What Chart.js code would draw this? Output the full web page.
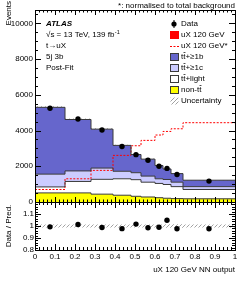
<!DOCTYPE html>
<html>
<head>
<meta charset="utf-8">
<script src="https://cdn.jsdelivr.net/npm/chart.js@4.4.1/dist/chart.umd.min.js"></script>
<style>
    html, body { margin: 0; padding: 0; background: #fff; }
    #wrap { position: relative; width: 249px; height: 281px; overflow: hidden; }
    canvas { position: absolute; left: 0; }
    #main { top: 0; }
    #ratio { top: 190px; }
</style>
</head>
<body>
<div id="wrap">
    <canvas id="main" width="249" height="212"></canvas>
    <canvas id="ratio" width="249" height="91"></canvas>
</div>
<script>
// NN output binning
const binEdges = [0, 0.15, 0.28, 0.39, 0.48, 0.53, 0.60, 0.64, 0.68, 0.74, 1.0];

// post-fit background components (events per bin)
const nonTtbar = [510, 510, 440, 380, 320, 280, 240, 210, 190, 180];
const ttLight = [335, 640, 830, 920, 930, 830, 800, 770, 670, 520];
const ttGe1c = [715, 590, 630, 420, 390, 340, 260, 280, 250, 160];
const ttGe1b = [3740, 2880, 2180, 1450, 1020, 950, 740, 590, 480, 360];

// signal normalised to total background (dashed)
const signalNorm = [700, 1300, 1770, 2610, 3150, 3450, 3750, 3950, 4100, 4440];

const dataEvents = [5250, 4650, 4030, 3110, 2650, 2335, 2000, 1880, 1540, 1170];
const dataRatio = [0.993, 1.013, 0.988, 0.978, 1.016, 0.985, 0.99, 1.048, 0.977, 0.977];
const uncFrac = [0.012, 0.012, 0.012, 0.012, 0.013, 0.013, 0.013, 0.014, 0.014, 0.012];

const yTicksMain = [0, 2000, 4000, 6000, 8000, 10000];
const yTicksRatio = [0.8, 0.9, 1, 1.1];
const xTicks = [0, 0.1, 0.2, 0.3, 0.4, 0.5, 0.6, 0.7, 0.8, 0.9, 1];

const FONT = '"Liberation Sans", Arial, Helvetica, sans-serif';
const COL = {
    b: '#6666cc',
    c: '#ccccff',
    light: '#ffffff',
    nontt: '#ffff00',
    sig: '#ff0000',
    line: '#3a3a3a',
};

const binCenters = binEdges.slice(0, -1).map((e, i) => (e + binEdges[i + 1]) / 2);

function steps(vals) {
    return binEdges.map((e, i) => ({ x: e, y: vals[Math.min(i, vals.length - 1)] }));
}

function cumulate(...parts) {
    return parts[0].map((_, i) => parts.reduce((s, p) => s + p[i], 0));
}

function hatch() {
    const c = document.createElement('canvas');
    c.width = 4;
    c.height = 4;
    const g = c.getContext('2d');
    g.strokeStyle = '#8a8a8a';
    g.lineWidth = 0.8;
    g.beginPath();
    g.moveTo(0, 4);
    g.lineTo(4, 0);
    g.moveTo(-1, 1);
    g.lineTo(1, -1);
    g.moveTo(3, 5);
    g.lineTo(5, 3);
    g.stroke();
    return g.createPattern(c, 'repeat');
}

const cumNon = nonTtbar;
const cumLight = cumulate(nonTtbar, ttLight);
const cumC = cumulate(nonTtbar, ttLight, ttGe1c);
const total = cumulate(nonTtbar, ttLight, ttGe1c, ttGe1b);
const uncLo = total.map((v, i) => v * (1 - uncFrac[i]));
const uncHi = total.map((v, i) => v * (1 + uncFrac[i]));
const pattern = hatch();

function histLine(vals, fill, bg, extra = {}) {
    return {
        data: steps(vals),
        stepped: true,
        fill: fill,
        backgroundColor: bg,
        borderColor: COL.line,
        borderWidth: 1,
        pointRadius: 0,
        ...extra,
    };
}

// inward ATLAS-style ticks + frame
function drawFrame(chart, cfg) {
    const { ctx, chartArea: a, scales } = chart;
    const x = scales.x;
    const y = scales.y;
    ctx.save();
    ctx.strokeStyle = '#000';
    ctx.lineWidth = 1;
    ctx.beginPath();
    const tick = (px, len, vertical) => {
        const p = Math.round(px) + 0.5;
        if (vertical) {
            ctx.moveTo(p, a.bottom);
            ctx.lineTo(p, a.bottom - len);
            ctx.moveTo(p, a.top);
            ctx.lineTo(p, a.top + len);
        } else {
            ctx.moveTo(a.left, p);
            ctx.lineTo(a.left + len, p);
            ctx.moveTo(a.right, p);
            ctx.lineTo(a.right - len, p);
        }
    };
    for (let v = 0; v <= 1.0001; v += 0.02) {
        const major = Math.abs(v * 10 - Math.round(v * 10)) < 1e-6;
        tick(x.getPixelForValue(v), major ? cfg.xMajor : cfg.xMinor, true);
    }
    for (let v = cfg.yMin; v <= cfg.yMax + 1e-9; v += cfg.yStep) {
        const major = Math.abs(v / cfg.yMajorStep - Math.round(v / cfg.yMajorStep)) < 1e-6;
        tick(y.getPixelForValue(v), major ? cfg.yMajor : cfg.yMinor, false);
    }
    ctx.stroke();
    ctx.strokeRect(Math.round(a.left) + 0.5, Math.round(a.top) + 0.5,
        Math.round(a.right - a.left), Math.round(a.bottom - a.top));
    ctx.restore();
}

function barText(ctx, text, x, y, barIdx) {
    // text with an overline above the character(s) at barIdx
    ctx.fillText(text, x, y);
    barIdx.forEach((i) => {
        const x0 = x + ctx.measureText(text.slice(0, i)).width;
        const w = ctx.measureText(text[i]).width;
        ctx.fillRect(x0 + 0.3, y - 5, w - 0.3, 0.7);
    });
}

const mainDecor = {
    id: 'mainDecor',
    afterDraw(chart) {
        drawFrame(chart, {
            xMajor: 5, xMinor: 2.5, yMin: 0, yMax: 10750, yStep: 500, yMajorStep: 2000, yMajor: 6, yMinor: 3,
        });
        const ctx = chart.ctx;
        ctx.save();
        ctx.fillStyle = '#000';
        ctx.textBaseline = 'middle';

        ctx.font = `8px ${FONT}`;
        ctx.textAlign = 'right';
        ctx.fillText('*: normalised to total background', 235, 5.5);

        ctx.save();
        ctx.translate(8.5, 1);
        ctx.rotate(-Math.PI / 2);
        ctx.textAlign = 'right';
        ctx.fillText('Events', 0, 0);
        ctx.restore();

        ctx.textAlign = 'left';
        ctx.font = `italic bold 8px ${FONT}`;
        ctx.fillText('ATLAS', 46, 24);
        ctx.font = `8px ${FONT}`;
        const lumi = '\u221As = 13 TeV, 139 fb';
        ctx.fillText(lumi, 46, 35);
        const lw = ctx.measureText(lumi).width;
        ctx.font = `5.5px ${FONT}`;
        ctx.fillText('-1', 46 + lw + 0.5, 32.5);
        ctx.font = `8px ${FONT}`;
        ctx.fillText('t\u2192uX', 46, 46);
        ctx.fillText('5j 3b', 46, 57);
        ctx.fillText('Post-Fit', 46, 68);

        // legend
        const mx = 174;
        const tx = 181;
        const box = (yc, fill, stroke) => {
            ctx.fillStyle = fill;
            ctx.fillRect(170.5, yc - 3.5, 8, 7);
            if (stroke) {
                ctx.strokeStyle = stroke;
                ctx.lineWidth = 1;
                ctx.strokeRect(170.5, yc - 3.5, 8, 7);
            }
            ctx.fillStyle = '#000';
        };
        ctx.beginPath();
        ctx.arc(mx, 24, 2.6, 0, Math.PI * 2);
        ctx.fill();
        ctx.fillRect(mx - 0.5, 20, 1, 8);
        ctx.fillText('Data', tx, 24);

        box(35, COL.sig, COL.sig);
        ctx.fillText('uX 120 GeV', tx, 35);

        ctx.strokeStyle = COL.sig;
        ctx.setLineDash([2, 1.5]);
        ctx.beginPath();
        ctx.moveTo(170, 46.5);
        ctx.lineTo(179, 46.5);
        ctx.stroke();
        ctx.setLineDash([]);
        ctx.fillText('uX 120 GeV*', tx, 46);

        box(57, COL.b, COL.line);
        barText(ctx, 'tt+\u22651b', tx, 57, [1]);
        box(68, COL.c, COL.line);
        barText(ctx, 'tt+\u22651c', tx, 68, [1]);
        box(79, COL.light, COL.line);
        barText(ctx, 'tt+light', tx, 79, [1]);
        box(90, COL.nontt, COL.line);
        barText(ctx, 'non-tt', tx, 90, [5]);
        box(101, pattern, null);
        ctx.fillText('Uncertainty', tx, 101);
        ctx.restore();
    },
};

const ratioDecor = {
    id: 'ratioDecor',
    afterDraw(chart) {
        drawFrame(chart, {
            xMajor: 6, xMinor: 3, yMin: 0.8, yMax: 1.2, yStep: 0.02, yMajorStep: 0.1, yMajor: 6, yMinor: 3,
        });
        const ctx = chart.ctx;
        ctx.save();
        ctx.fillStyle = '#000';
        ctx.font = `8px ${FONT}`;
        ctx.textBaseline = 'middle';
        ctx.textAlign = 'center';
        ctx.translate(8.5, 36);
        ctx.rotate(-Math.PI / 2);
        ctx.fillText('Data / Pred.', 0, 0);
        ctx.restore();
    },
};

const tickFont = { family: FONT, size: 8 };
const noGrid = { display: false, drawTicks: false };

new Chart(document.getElementById('main'), {
    type: 'line',
    data: {
        datasets: [
            histLine(cumNon, 'origin', COL.nontt),
            histLine(cumLight, '-1', COL.light),
            histLine(cumC, '-1', COL.c),
            histLine(total, '-1', COL.b),
            histLine(uncLo, false, 'transparent', { borderWidth: 0 }),
            histLine(uncHi, '-1', pattern, { borderWidth: 0 }),
            histLine(signalNorm, false, 'transparent', { borderColor: COL.sig, borderDash: [2, 1.5] }),
            {
                data: binCenters.map((x, i) => ({ x, y: dataEvents[i] })),
                showLine: false,
                pointRadius: 2.7,
                pointBackgroundColor: '#000',
                pointBorderWidth: 0,
                order: -1,
            },
        ],
    },
    options: {
        responsive: false,
        devicePixelRatio: 1,
        animation: false,
        events: [],
        layout: { padding: { left: 0, right: 14, top: 10, bottom: 10 } },
        plugins: {
            legend: { display: false },
            tooltip: { enabled: false },
            filler: { drawTime: 'beforeDatasetsDraw' },
        },
        scales: {
            x: { type: 'linear', min: 0, max: 1, display: false },
            y: {
                type: 'linear',
                min: 0,
                max: 10750,
                afterBuildTicks: (s) => { s.ticks = yTicksMain.map((v) => ({ value: v })); },
                afterFit: (s) => { s.width = 35; },
                grid: noGrid,
                border: { display: false },
                ticks: { font: tickFont, color: '#000', padding: 2, autoSkip: false, callback: (v) => String(v) },
            },
        },
    },
    plugins: [mainDecor],
});

new Chart(document.getElementById('ratio'), {
    type: 'line',
    data: {
        datasets: [
            histLine(uncFrac.map((u) => 1 - u), false, 'transparent', { borderWidth: 0 }),
            histLine(uncFrac.map((u) => 1 + u), '-1', pattern, { borderWidth: 0 }),
            {
                data: binCenters.map((x, i) => ({ x, y: dataRatio[i] })),
                showLine: false,
                pointRadius: 2.7,
                pointBackgroundColor: '#000',
                pointBorderWidth: 0,
                order: -1,
            },
        ],
    },
    options: {
        responsive: false,
        devicePixelRatio: 1,
        animation: false,
        events: [],
        layout: { padding: { left: 0, right: 14, top: 12, bottom: 0 } },
        plugins: {
            legend: { display: false },
            tooltip: { enabled: false },
            filler: { drawTime: 'beforeDatasetsDraw' },
        },
        scales: {
            x: {
                type: 'linear',
                min: 0,
                max: 1,
                afterBuildTicks: (s) => { s.ticks = xTicks.map((v) => ({ value: v })); },
                afterFit: (s) => { s.height = 31; },
                grid: noGrid,
                border: { display: false },
                ticks: {
                    font: tickFont,
                    color: '#000',
                    padding: 2,
                    maxRotation: 0,
                    autoSkip: false,
                    callback: (v) => (v === 0 || v === 1 ? String(v) : v.toFixed(1)),
                },
                title: {
                    display: true,
                    text: 'uX 120 GeV NN output',
                    align: 'end',
                    color: '#000',
                    font: { family: FONT, size: 8 },
                    padding: { top: 0, bottom: 6 },
                },
            },
            y: {
                type: 'linear',
                min: 0.8,
                max: 1.2,
                afterBuildTicks: (s) => { s.ticks = yTicksRatio.map((v) => ({ value: v })); },
                afterFit: (s) => { s.width = 35; },
                grid: noGrid,
                border: { display: false },
                ticks: { font: tickFont, color: '#000', padding: 1, autoSkip: false, callback: (v) => String(v) },
            },
        },
    },
    plugins: [ratioDecor],
});
</script>
</body>
</html>
